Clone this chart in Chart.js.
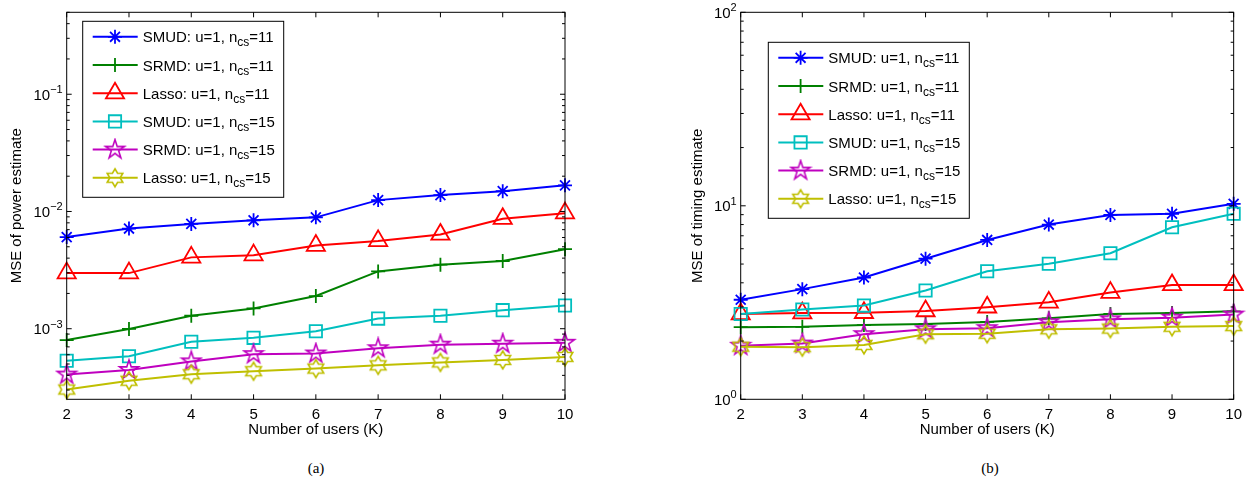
<!DOCTYPE html>
<html>
<head>
<meta charset="utf-8">
<script src="https://cdn.jsdelivr.net/npm/chart.js@4.4.1/dist/chart.umd.min.js"></script>
<style>
  html, body { margin: 0; padding: 0; background: #fff; }
  body { width: 1249px; height: 484px; position: relative; overflow: hidden; }
  .panel { position: absolute; top: 0; height: 440px; }
  .cap { position: absolute; top: 460px; width: 60px; text-align: center;
         font: 15px 'Liberation Serif', 'Times New Roman', serif; color: #000; }
</style>
</head>
<body>
<div class="panel" style="left:0;width:600px"><canvas id="powerChart"></canvas></div>
<div class="panel" style="left:660px;width:589px"><canvas id="timingChart"></canvas></div>
<div class="cap" style="left:286px">(a)</div>
<div class="cap" style="left:960px">(b)</div>
<script>
// x axis: number of users K
const users   = [2, 3, 4, 5, 6, 7, 8, 9, 10];
const methods = ['SMUD', 'SRMD', 'Lasso', 'SMUD', 'SRMD', 'Lasso'];
const ncs     = [11, 11, 11, 15, 15, 15];

// (a) MSE of power estimate
const powSmud11  = [6.05e-3, 7.15e-3, 7.83e-3, 8.41e-3, 8.91e-3, 1.25e-2, 1.38e-2, 1.49e-2, 1.67e-2];
const powSrmd11  = [8.0e-4, 9.95e-4, 1.29e-3, 1.49e-3, 1.90e-3, 3.08e-3, 3.52e-3, 3.78e-3, 4.77e-3];
const powLasso11 = [2.98e-3, 2.98e-3, 4.06e-3, 4.24e-3, 5.12e-3, 5.61e-3, 6.37e-3, 8.68e-3, 9.68e-3];
const powSmud15  = [5.33e-4, 5.83e-4, 7.74e-4, 8.36e-4, 9.52e-4, 1.22e-3, 1.29e-3, 1.44e-3, 1.58e-3];
const powSrmd15  = [4.06e-4, 4.45e-4, 5.26e-4, 6.07e-4, 6.14e-4, 6.81e-4, 7.31e-4, 7.45e-4, 7.59e-4];
const powLasso15 = [3.03e-4, 3.60e-4, 4.09e-4, 4.34e-4, 4.57e-4, 4.87e-4, 5.16e-4, 5.41e-4, 5.75e-4];

// (b) MSE of timing estimate
const timSmud11  = [3.27, 3.71, 4.26, 5.33, 6.66, 8.0, 8.97, 9.1, 10.24];
const timSrmd11  = [2.36, 2.37, 2.42, 2.45, 2.51, 2.62, 2.76, 2.79, 2.85];
const timLasso11 = [2.76, 2.79, 2.80, 2.86, 2.99, 3.17, 3.56, 3.90, 3.90];
const timSmud15  = [2.76, 2.91, 3.05, 3.65, 4.59, 5.02, 5.69, 7.75, 9.1];
const timSrmd15  = [1.89, 1.94, 2.17, 2.30, 2.33, 2.50, 2.59, 2.64, 2.74];
const timLasso15 = [1.87, 1.86, 1.91, 2.17, 2.18, 2.30, 2.32, 2.37, 2.39];

const FAM    = "'Liberation Sans', Arial, sans-serif";
const colors = ['#0000ff', '#008000', '#ff0000', '#00bfbf', '#bf00bf', '#bfbf00'];

// outlined star markers (pentagram / hexagram) as little canvases
function starImg(n, R, ratio, color) {
  const s = Math.ceil(2 * R + 4);
  const c = document.createElement('canvas');
  c.width = s; c.height = s;
  const g = c.getContext('2d');
  g.strokeStyle = color; g.lineWidth = 1.6;
  g.beginPath();
  for (let i = 0; i < 2 * n; i++) {
    const r = i % 2 ? R * ratio : R;
    const a = -Math.PI / 2 + i * Math.PI / n;
    const px = s / 2 + r * Math.cos(a), py = s / 2 + r * Math.sin(a);
    i ? g.lineTo(px, py) : g.moveTo(px, py);
  }
  g.closePath(); g.stroke();
  return c;
}

const styles = ['star', 'cross', 'triangle', 'rect',
                starImg(5, 10, 0.382, colors[4]), starImg(6, 9, 0.577, colors[5])];
const radii  = [7, 7, 10.5, 8.7, 9, 9];

// box, inward ticks, 10^n labels, legend with subscripts
const frame = o => ({
  id: 'frame',
  afterDraw(chart) {
    const { ctx, chartArea: a, scales: { x, y } } = chart;
    ctx.save();
    ctx.strokeStyle = '#000'; ctx.lineWidth = 1;
    ctx.strokeRect(a.left, a.top, a.right - a.left, a.bottom - a.top);
    ctx.beginPath();
    users.forEach((u, i) => {
      const px = x.getPixelForValue(i);
      ctx.moveTo(px, a.bottom); ctx.lineTo(px, a.bottom - 5);
      ctx.moveTo(px, a.top);    ctx.lineTo(px, a.top + 5);
    });
    const d0 = Math.floor(Math.log10(o.ymin)), d1 = Math.ceil(Math.log10(o.ymax));
    const decades = [];
    for (let d = d0; d <= d1; d++) {
      for (let k = 1; k <= 9; k++) {
        const v = k * Math.pow(10, d);
        if (v < o.ymin * 0.999 || v > o.ymax * 1.001) continue;
        const py = y.getPixelForValue(v), len = k === 1 ? 5 : 3;
        if (k === 1) decades.push([d, py]);
        ctx.moveTo(a.left, py);  ctx.lineTo(a.left + len, py);
        ctx.moveTo(a.right, py); ctx.lineTo(a.right - len, py);
      }
    }
    ctx.stroke();

    ctx.fillStyle = '#000'; ctx.textBaseline = 'alphabetic'; ctx.textAlign = 'left';
    decades.forEach(([d, py]) => {
      const exp = (d < 0 ? '\u2212' : '') + Math.abs(d);
      ctx.font = '11px ' + FAM; const ew = ctx.measureText(exp).width;
      ctx.font = '15px ' + FAM; const bw = ctx.measureText('10').width;
      const xr = a.left - 4;
      ctx.fillText('10', xr - ew - bw, py + 5.5);
      ctx.font = '11px ' + FAM; ctx.fillText(exp, xr - ew, py - 1);
    });

    // legend
    const lx = a.left + o.legX, ly = a.top + o.legY;
    ctx.fillStyle = '#fff'; ctx.fillRect(lx, ly, 201, 176);
    ctx.strokeStyle = '#000'; ctx.lineWidth = 1; ctx.strokeRect(lx, ly, 201, 176);
    chart.data.datasets.forEach((ds, i) => {
      const ry = ly + 15.5 + i * 28.2;
      ctx.strokeStyle = ds.borderColor; ctx.lineWidth = 2;
      ctx.beginPath(); ctx.moveTo(lx + 10, ry); ctx.lineTo(lx + 55, ry); ctx.stroke();
      ctx.lineWidth = ds.pointBorderWidth; ctx.fillStyle = 'rgba(0,0,0,0)';
      Chart.helpers.drawPoint(ctx, { pointStyle: ds.pointStyle, radius: ds.pointRadius,
        rotation: 0, borderWidth: ds.pointBorderWidth }, lx + 32.3, ry);
      ctx.fillStyle = '#000';
      const t1 = methods[i] + ': u=1, n';
      const tx = lx + 60;
      ctx.font = '15px ' + FAM; ctx.fillText(t1, tx, ry + 5.5);
      const w1 = ctx.measureText(t1).width;
      ctx.font = '12px ' + FAM; ctx.fillText('cs', tx + w1, ry + 9.5);
      const w2 = ctx.measureText('cs').width;
      ctx.font = '15px ' + FAM; ctx.fillText('=' + ncs[i], tx + w1 + w2, ry + 5.5);
    });
    ctx.restore();
  }
});

function makeChart(id, series, o) {
  const datasets = series.map((d, i) => ({
    label: methods[i] + ': u=1, n_cs=' + ncs[i],
    data: d,
    borderColor: colors[i], backgroundColor: colors[i], borderWidth: 2,
    pointStyle: styles[i], pointRadius: radii[i], pointBorderWidth: 1.8,
    pointBorderColor: colors[i], pointBackgroundColor: 'rgba(0,0,0,0)',
    tension: 0, clip: false, order: 6 - i
  }));
  return new Chart(document.getElementById(id), {
    type: 'line',
    data: { labels: users, datasets },
    options: {
      responsive: true, maintainAspectRatio: false, animation: false,
      layout: { padding: { left: 0, top: o.top, right: o.right, bottom: 0 } },
      plugins: { legend: { display: false }, tooltip: { enabled: false } },
      scales: {
        x: {
          type: 'category', offset: false,
          grid: { display: false, drawTicks: false, tickLength: 0 }, border: { display: false },
          ticks: { color: '#000', font: { family: FAM, size: 15 }, padding: 7, autoSkip: false, maxRotation: 0 },
          title: { display: true, text: 'Number of users (K)', color: '#000',
                   font: { family: FAM, size: 15 }, padding: { top: 0, bottom: 1 } },
          afterFit: s => { s.height = 40.7; }
        },
        y: {
          type: 'logarithmic', min: o.ymin, max: o.ymax,
          grid: { display: false }, border: { display: false },
          ticks: { display: false },
          title: { display: true, text: o.ytitle, color: '#000',
                   font: { family: FAM, size: 15 }, padding: { top: o.ytp, bottom: 0 } },
          afterFit: s => { s.width = o.yw; }
        }
      }
    },
    plugins: [frame(o)]
  });
}

makeChart('powerChart',
  [powSmud11, powSrmd11, powLasso11, powSmud15, powSrmd15, powLasso15],
  { ymin: 2.5e-4, ymax: 0.5, ytitle: 'MSE of power estimate',
    top: 6, right: 35, yw: 66.7, ytp: 8, legX: 16, legY: 9 });

makeChart('timingChart',
  [timSmud11, timSrmd11, timLasso11, timSmud15, timSrmd15, timLasso15],
  { ymin: 1, ymax: 100, ytitle: 'MSE of timing estimate',
    top: 6.7, right: 9.7, yw: 80.7, ytp: 29.3, legX: 27.6, legY: 30 });
</script>
</body>
</html>
